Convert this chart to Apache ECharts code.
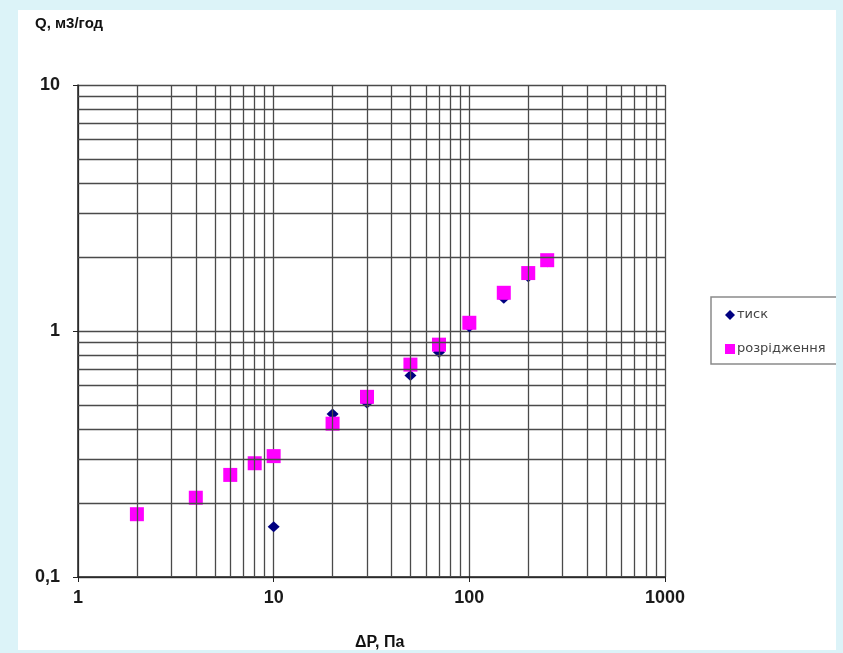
<!DOCTYPE html>
<html>
<head>
<meta charset="utf-8">
<script src="https://cdn.jsdelivr.net/npm/echarts@6/dist/echarts.min.js"></script>
<style>
  body { margin: 0; background: #dcf3f8; }
  #paper { position: absolute; left: 18px; top: 10px; width: 818px; height: 640px; background: #fff; }
  #chart { position: absolute; left: 0; top: 0; width: 843px; height: 653px; }
  #edge { position: absolute; left: 836px; top: 0; width: 7px; height: 653px; background: #dcf3f8; }
</style>
</head>
<body>
<div id="paper"></div>
<div id="chart"></div>
<div id="edge"></div>
<script>
// ΔP, Па
var pressureX = [10, 20, 30, 50, 70, 100, 150, 200, 250]
var pressureQ = [0.16, 0.46, 0.51, 0.66, 0.82, 1.04, 1.36, 1.66, 1.91]
var vacuumX = [2, 4, 6, 8, 10, 20, 30, 50, 70, 100, 150, 200, 250]
var vacuumQ = [0.18, 0.21, 0.26, 0.29, 0.31, 0.42, 0.54, 0.73, 0.88, 1.08, 1.43, 1.72, 1.94]
var xGrid = [2, 3, 4, 5, 6, 7, 8, 9, 20, 30, 40, 50, 60, 70, 80, 90, 200, 300, 400, 500, 600, 700, 800, 900]
var yGrid = [0.2, 0.3, 0.4, 0.5, 0.6, 0.7, 0.8, 0.9, 2, 3, 4, 5, 6, 7, 8, 9]

function pairs (xs, ys) {
  var out = []
  for (var i = 0; i < xs.length; i++) out.push([xs[i], ys[i]])
  return out
}

var gridLines = []
xGrid.forEach(function (v) { gridLines.push({ xAxis: v }) })
yGrid.forEach(function (v) { gridLines.push({ yAxis: v }) })

var lineColor = '#4a4a4a'
var lineWidth = 1.3
var labelFont = { color: '#1a1a1a', fontSize: 18, fontWeight: 'bold', fontFamily: 'Liberation Sans, Arial' }

var chart = echarts.init(document.getElementById('chart'))
chart.setOption({
  animation: false,
  grid: { left: 78, top: 85, width: 587, height: 492 },
  title: [
    { text: 'Q, м3/год', left: 30, top: 11, textStyle: { fontSize: 15, fontWeight: 'bold', color: '#111', fontFamily: 'Liberation Sans, Arial' } },
    { text: 'ΔP, Па', left: 350, top: 630, textStyle: { fontSize: 16, fontWeight: 'bold', color: '#111', fontFamily: 'Liberation Sans, Arial' } }
  ],
  legend: {
    orient: 'vertical',
    left: 711,
    top: 297,
    padding: [11, 30, 8, 14],
    itemGap: 20,
    itemWidth: 10,
    itemHeight: 10,
    borderColor: '#8a8a8a',
    borderWidth: 1.5,
    textStyle: { fontSize: 13, lineHeight: 14, color: '#444', fontFamily: 'DejaVu Sans', padding: [0, 0, 0, -3] },
    data: [
      { name: 'тиск', icon: 'diamond' },
      { name: 'розрідження', icon: 'rect' }
    ]
  },
  xAxis: {
    type: 'log',
    logBase: 10,
    min: 1,
    max: 1000,
    axisLine: { lineStyle: { color: '#222', width: 1.5 } },
    axisTick: { show: true, length: 5, lineStyle: { color: '#222' } },
    axisLabel: Object.assign({ margin: 12, formatter: function (v) { return String(v) } }, labelFont),
    splitLine: { show: true, lineStyle: { color: lineColor, width: lineWidth } }
  },
  yAxis: {
    type: 'log',
    logBase: 10,
    min: 0.1,
    max: 10,
    axisLine: { show: true, lineStyle: { color: '#222', width: 1.5 } },
    axisTick: { show: true, length: 5, lineStyle: { color: '#222' } },
    axisLabel: Object.assign({ margin: 18, formatter: function (v) { return String(v).replace('.', ',') } }, labelFont),
    splitLine: { show: true, lineStyle: { color: lineColor, width: lineWidth } }
  },
  series: [
    {
      name: 'grid',
      type: 'scatter',
      data: [],
      silent: true,
      markLine: {
        silent: true,
        symbol: 'none',
        label: { show: false },
        lineStyle: { type: 'solid', color: lineColor, width: lineWidth },
        data: gridLines
      }
    },
    {
      name: 'тиск',
      type: 'scatter',
      symbol: 'diamond',
      symbolSize: [12, 11],
      itemStyle: { color: '#000080', opacity: 1 },
      data: pairs(pressureX, pressureQ)
    },
    {
      name: 'розрідження',
      type: 'scatter',
      symbol: 'rect',
      symbolSize: 14,
      itemStyle: { color: '#ff00ff', opacity: 1 },
      data: pairs(vacuumX, vacuumQ)
    }
  ]
})
</script>
</body>
</html>
